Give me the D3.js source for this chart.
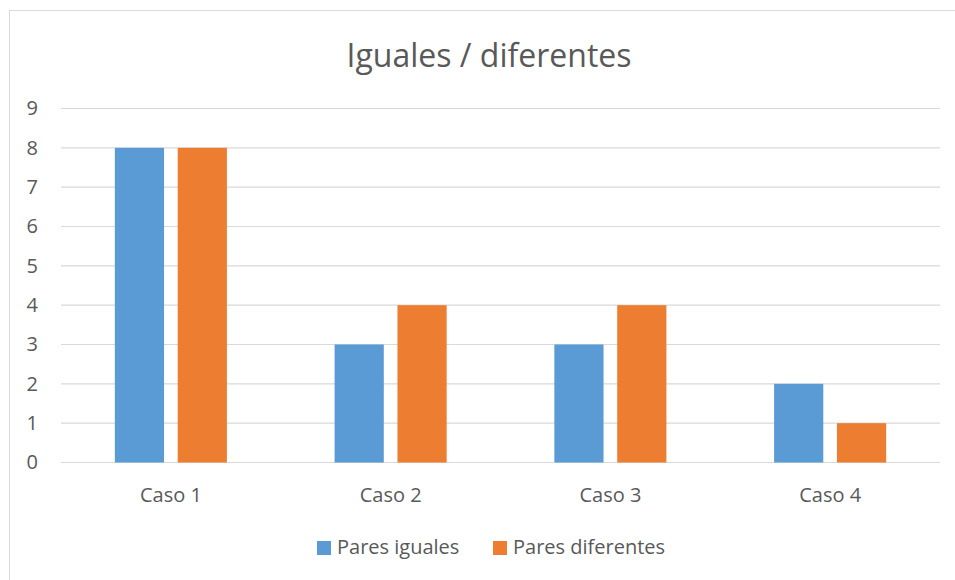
<!DOCTYPE html>
<html><head><meta charset="utf-8">
<script src="https://cdn.jsdelivr.net/npm/d3@7"></script>
<style>body{margin:0;background:#fff;} svg{display:block;font-family:"Open Sans",sans-serif;}</style>
</head><body><svg id="c" width="955" height="580"></svg>
<script>
const categories = ["Caso 1", "Caso 2", "Caso 3", "Caso 4"];
const seriesNames = ["Pares iguales", "Pares diferentes"];
const paresIguales = [8, 3, 3, 2];
const paresDiferentes = [8, 4, 4, 1];
const colors = ["#5b9bd5", "#ed7d31"];
const yTicks = [0,1,2,3,4,5,6,7,8,9];
const title = "Iguales / diferentes";

const svg = d3.select("#c");
// chart border
svg.append("rect").attr("x",9.5).attr("y",10.5).attr("width",960).attr("height",600)
  .attr("fill","#fff").attr("stroke","#d9d9d9").attr("stroke-width",1);

const mLeft = 61, mRight = 940, mTop = 108.5, mBottom = 462.5;
const x0 = d3.scaleBand().domain(categories).range([mLeft, mRight]).paddingInner(0.49).paddingOuter(0.245);
const x1 = d3.scaleBand().domain(seriesNames).range([0, x0.bandwidth()]).paddingInner(0.2175);
const y = d3.scaleLinear().domain([0, 9]).range([mBottom, mTop]);

// gridlines
svg.append("g").selectAll("line").data(yTicks).join("line")
  .attr("x1", mLeft).attr("x2", mRight)
  .attr("y1", d => y(d)).attr("y2", d => y(d))
  .attr("stroke", "#d9d9d9").attr("stroke-width", 1.2);

// y axis labels
const yAxis = svg.append("g").attr("transform", `translate(${mLeft},0)`)
  .call(d3.axisLeft(y).tickValues(yTicks).tickSize(0).tickPadding(23).tickFormat(d3.format("d")));
yAxis.select(".domain").remove();
yAxis.selectAll("text").attr("fill","#595959").style("font-size","20px").style("font-family","'Open Sans',sans-serif");

const data = categories.map((c,i) => ({cat:c, vals:[paresIguales[i], paresDiferentes[i]]}));
const groups = svg.append("g").selectAll("g").data(data).join("g")
  .attr("transform", d => `translate(${x0(d.cat)},0)`);
groups.selectAll("rect").data(d => d.vals.map((v,j)=>({name:seriesNames[j], v, j}))).join("rect")
  .attr("x", d => x1(d.name)).attr("width", x1.bandwidth())
  .attr("y", d => y(d.v)).attr("height", d => y(0) - y(d.v))
  .attr("fill", d => colors[d.j]);

// x axis labels
const xAxisScale = d3.scaleBand().domain(categories).range([mLeft, mRight]);
const xAxis = svg.append("g").attr("transform", `translate(0,${mBottom})`)
  .call(d3.axisBottom(xAxisScale).tickSize(0).tickPadding(25));
xAxis.select(".domain").remove();
xAxis.selectAll("text").attr("fill","#595959").style("font-size","20px").style("font-family","'Open Sans',sans-serif");

// title
svg.append("text").attr("x", 489).attr("y", 67).attr("text-anchor","middle")
  .attr("fill","#595959").style("font-size","32px").text(title);

// legend
const legendItems = [{name:seriesNames[0], color:colors[0], x:317},{name:seriesNames[1], color:colors[1], x:493}];
const lg = svg.append("g");
lg.selectAll("rect").data(legendItems).join("rect")
  .attr("x", d=>d.x).attr("y", 541).attr("width", 14).attr("height", 14).attr("fill", d=>d.color);
lg.selectAll("text").data(legendItems).join("text")
  .attr("x", d=>d.x+20).attr("y", 554).attr("fill","#595959").style("font-size","20px").text(d=>d.name);
</script></body></html>
